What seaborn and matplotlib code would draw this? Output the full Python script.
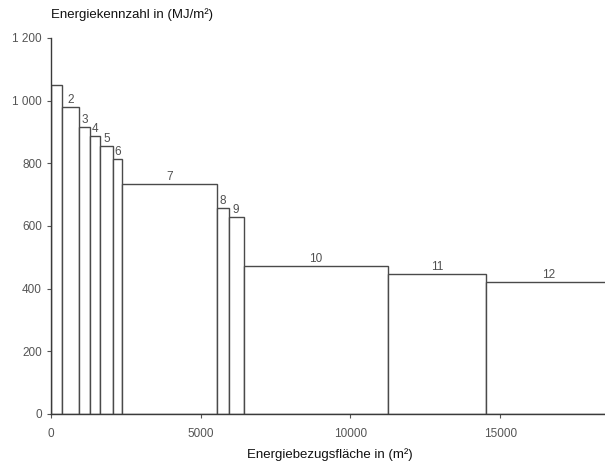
import matplotlib
matplotlib.use("Agg")
import matplotlib.pyplot as plt
import matplotlib.ticker as mticker
import numpy as np
import pandas as pd
import seaborn as sb

# building number, floor area (m2) and energy index (MJ/m2), sorted by index
labels = ["", "2", "3", "4", "5", "6", "7", "8", "9", "10", "11", "12"]
areas = [360, 590, 360, 340, 430, 300, 3180, 370, 510, 4810, 3280, 4200]
kennzahl = [1050, 980, 916, 888, 856, 813, 733, 656, 629, 472, 447, 420]

sb.set_style("white")
plt.rcParams['font.family'] = ['Liberation Sans', 'DejaVu Sans']

edges = np.concatenate([[0], np.cumsum(areas)])
mids = (edges[:-1] + edges[1:]) / 2
df = pd.DataFrame({"mid": mids, "wert": kennzahl})

fig = plt.figure(figsize=(6.05, 4.66), dpi=100)
ax = fig.add_axes([51 / 605, 52 / 466, 554 / 605, 376 / 466])

sb.histplot(data=df, x="mid", weights="wert", bins=[float(e) for e in edges], stat="count",
            fill=True, color="white", edgecolor="#4a4a4a", linewidth=1.0, alpha=1, ax=ax)

for lab, m, v in zip(labels, mids, kennzahl):
    if lab:
        ax.text(m, v + 4, lab, ha="center", va="bottom", fontsize=8.5, color="#505050")

ax.set_xlim(0, 18500)
ax.set_ylim(0, 1200)
ax.set_xticks([0, 5000, 10000, 15000])
ax.set_yticks([0, 200, 400, 600, 800, 1000, 1200])
ax.yaxis.set_major_formatter(mticker.FuncFormatter(lambda v, p: f"{v:,.0f}".replace(",", " ")))
ax.tick_params(axis="both", labelsize=8.5, labelcolor="#555555", color="#555555",
               length=3, width=0.8, direction="out", left=True, bottom=True)
ax.tick_params(axis="x", pad=7)

for s in ["top", "right"]:
    ax.spines[s].set_visible(False)
for s in ["left", "bottom"]:
    ax.spines[s].set_color("#3a3a3a")
    ax.spines[s].set_linewidth(1.0)

ax.set_ylabel("")
ax.set_xlabel("")
fig.text(51 / 605, 1 - 15 / 466, "Energiekennzahl in (MJ/m²)", fontsize=9.5,
         ha="left", va="center", color="#111111")
fig.text(330 / 605, 1 - 455 / 466, "Energiebezugsfläche in (m²)", fontsize=9.5,
         ha="center", va="center", color="#111111")

fig.savefig("out.png", dpi=100)
